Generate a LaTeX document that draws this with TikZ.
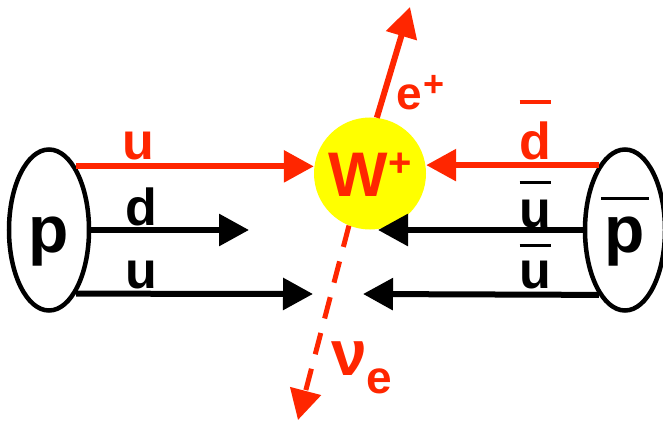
\documentclass[tikz,border=0pt]{standalone}
\usepackage{fontspec}
\setmainfont{Liberation Sans}
\usetikzlibrary{shapes,arrows.meta,positioning}
\definecolor{wred}{RGB}{255,38,0}
\definecolor{wyellow}{RGB}{255,255,0}
% antiquark bar: raise, width, letter
\newcommand{\qbar}[3]{\ooalign{\hidewidth\raisebox{#1}{\rule{#2}{3.5pt}}\hidewidth\cr#3\cr}}

\begin{document}
\begin{tikzpicture}[x=1pt, y=-1pt,
    had/.style={draw, ellipse, line width=4.5pt, minimum width=80pt, minimum height=161pt, inner sep=0pt, text height=44pt, text depth=0pt, font=\fontsize{66}{66}\selectfont\bfseries},
    quark/.style={anchor=base, inner sep=0pt, font=\fontsize{52}{52}\selectfont\bfseries},
    lep/.style={anchor=base west, inner sep=0pt, text=wred, font=\fontsize{46}{46}\selectfont\bfseries},
    arrow/.style={-{Triangle[length=30pt,width=31pt]}, line width=6pt}
]

\useasboundingbox (0,0) rectangle (663,422);

\node[had] (p) at (49,230) {p};
\node[had] (pbar) at (625,230) {\qbar{52pt}{48pt}{p}};
\node[circle, fill=wyellow, minimum size=112pt, inner sep=0pt, text height=46pt, text depth=0pt, text=wred,
      font=\fontsize{63}{63}\selectfont\bfseries] (w) at (370,173.5) {W\raisebox{20pt}{\fontsize{40}{40}\selectfont +}};

\coordinate (dend) at (249,230);
\coordinate (uend) at (313,294);
\coordinate (ubarend) at (378,230);
\coordinate (ubarend2) at (363,294);
\coordinate (etip) at (410,7);
\coordinate (nutip) at (298,420);

\draw[arrow, wred] (p.67.5) -- (p.67.5 -| w.west);
\draw[arrow] (p.east) -- (dend);
\draw[arrow] (p.-67.5) -- (uend);
\draw[arrow, wred] (pbar.112.5) -- (pbar.112.5 -| w.east);
\draw[arrow] (pbar.west) -- (ubarend);
\draw[arrow] (pbar.-112.5) -- (ubarend2);
\draw[arrow, wred] (w.83) -- (etip);
\draw[arrow, wred, line width=5pt, dash pattern=on 22pt off 15pt] (w.248) -- (nutip);

\node[quark, text=wred] (uL) at (138,160) {u};
\node[quark] (dL) at (141,225) {d};
\node[quark] (uL2) at (141,288) {u};
\node[quark, text=wred] (dbarL) at (535,160) {\qbar{56pt}{31pt}{d}};
\node[quark] (ubarL) at (535,227) {\qbar{43pt}{31pt}{u}};
\node[quark] (ubarL2) at (535,288) {\qbar{41pt}{31pt}{u}};

\node[lep] (eL) at (396,110) {e\kern2pt\raisebox{13pt}{\fontsize{36}{36}\selectfont +}};
\node[lep, font=\fontsize{64}{64}\selectfont\bfseries] (nuL) at (331,375) {ν\raisebox{-18pt}{\fontsize{46}{46}\selectfont e}};

\end{tikzpicture}
\end{document}
